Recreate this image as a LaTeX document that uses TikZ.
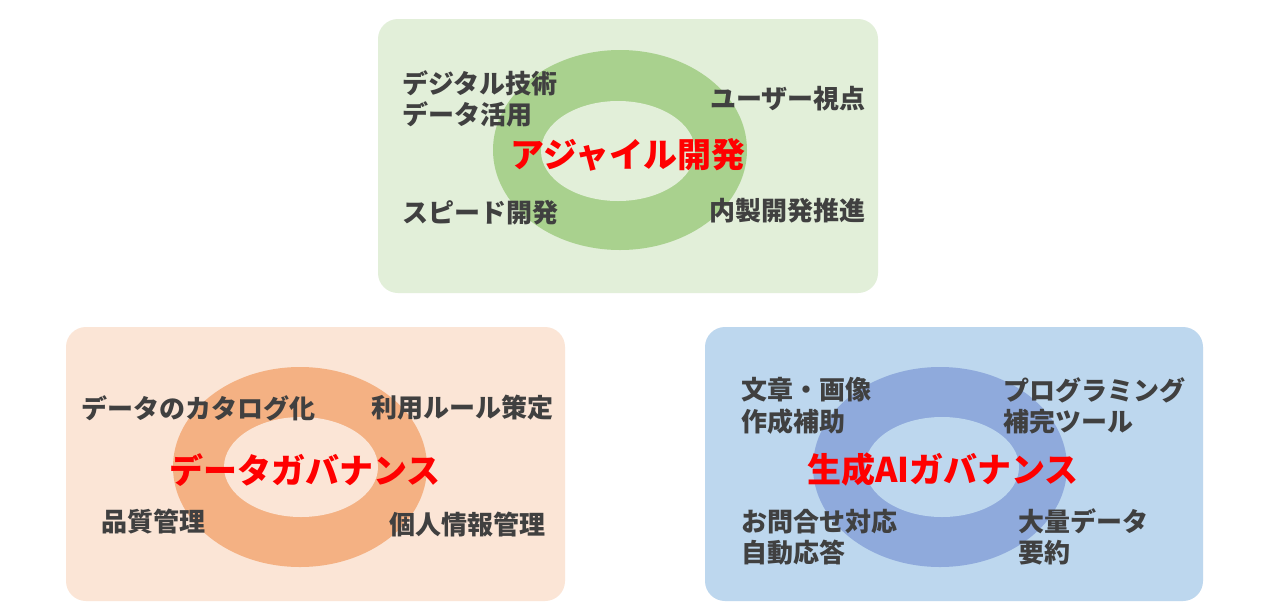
\documentclass[tikz,border=0pt]{standalone}
\usepackage{fontspec}
\newfontfamily\cjk{Noto Sans CJK JP}
\begin{document}
\begin{tikzpicture}[x=1pt,y=-1pt,
  panel/.style={rounded corners=20pt},
  item/.style={font=\cjk\bfseries\fontsize{26}{31.5}\selectfont, text=textgray, inner sep=0pt, align=left},
  title/.style={font=\cjk\bfseries\fontsize{34}{40}\selectfont, text=titlered, inner sep=0pt}]
\definecolor{textgray}{HTML}{404040}
\definecolor{titlered}{HTML}{FF0000}
\definecolor{gbg}{HTML}{E2EFD9}
\definecolor{gring}{HTML}{A9D18E}
\definecolor{obg}{HTML}{FBE5D6}
\definecolor{oring}{HTML}{F4B183}
\definecolor{bbg}{HTML}{BDD7EE}
\definecolor{bring}{HTML}{8FAADC}
\fill[white] (0,0) rectangle (1280,614);
\useasboundingbox (0,0) rectangle (1280,614);
% top panel
\fill[gbg,panel] (378,19) rectangle (878,293);
\fill[gring] (620,150) ellipse [x radius=127, y radius=100];
\fill[gbg] (618,151) ellipse [x radius=77, y radius=50];
\node[title] (t1) at (628,155) {アジャイル開発};
\node[item,anchor=west] (a1) at (402,99) {デジタル技術\\データ活用};
\node[item,anchor=east] (a2) at (866,99) {ユーザー視点};
\node[item,anchor=west] (a3) at (402,213) {スピード開発};
\node[item,anchor=east] (a4) at (866,211) {内製開発推進};
% bottom-left panel
\fill[obg,panel] (66,327) rectangle (565,601);
\fill[oring] (300,467) ellipse [x radius=127, y radius=100];
\fill[obg] (301,467) ellipse [x radius=77, y radius=50];
\node[title] (t2) at (305,470) {データガバナンス};
\node[item,anchor=west] (b1) at (81,408) {データのカタログ化};
\node[item,anchor=east] (b2) at (554,408) {利用ルール策定};
\node[item,anchor=west] (b3) at (101,522) {品質管理};
\node[item,anchor=east] (b4) at (546,525) {個人情報管理};
% bottom-right panel
\fill[bbg,panel] (705,327) rectangle (1203,601);
\fill[bring] (940,467) ellipse [x radius=127, y radius=100];
\fill[bbg] (942,467) ellipse [x radius=77, y radius=50];
\node[title] (t3) at (943,470) {生成AIガバナンス};
\node[item,anchor=west] (c1) at (741,406) {文章・画像\\作成補助};
\node[item,anchor=west] (c2) at (1003,406) {プログラミング\\補完ツール};
\node[item,anchor=west] (c3) at (741,537) {お問合せ対応\\自動応答};
\node[item,anchor=west] (c4) at (1018,537) {大量データ\\要約};
\end{tikzpicture}
\end{document}
